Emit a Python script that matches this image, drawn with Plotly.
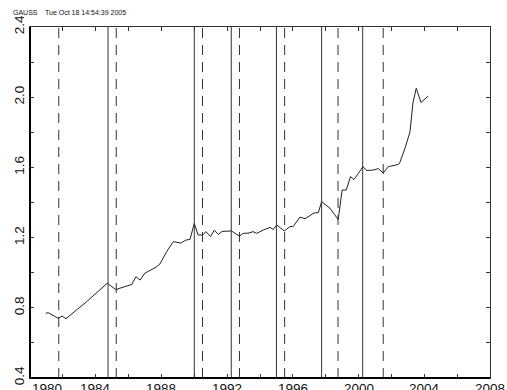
import plotly.graph_objects as go

# ---- data ----
years = [1980.96, 1981.11, 1981.72, 1981.95, 1982.19, 1983.45, 1984.70, 1985.22, 1985.89, 1986.19,
         1986.45, 1986.70, 1987.00, 1987.30, 1987.67, 1987.91, 1988.32, 1988.72, 1988.95, 1989.19,
         1989.49, 1989.74, 1990.00, 1990.23, 1990.51, 1990.71, 1990.99, 1991.22, 1991.46, 1991.69,
         1992.26, 1992.74, 1992.98, 1993.33, 1993.57, 1993.80, 1994.20, 1994.61, 1994.81, 1995.02,
         1995.48, 1995.82, 1996.03, 1996.43, 1996.74, 1997.29, 1997.55, 1997.75, 1998.26, 1998.76,
         1999.00, 1999.25, 1999.51, 1999.72, 1999.99, 2000.26, 2000.51, 2000.89, 2001.20, 2001.50,
         2001.81, 2002.15, 2002.43, 2002.52, 2002.82, 2003.13, 2003.31, 2003.51, 2003.80, 2004.24]
values = [0.769, 0.772, 0.740, 0.753, 0.738, 0.835, 0.940, 0.904, 0.924, 0.933,
          0.977, 0.958, 0.998, 1.015, 1.031, 1.050, 1.120, 1.177, 1.175, 1.169,
          1.186, 1.190, 1.281, 1.215, 1.215, 1.234, 1.206, 1.243, 1.218, 1.235,
          1.238, 1.209, 1.224, 1.226, 1.234, 1.224, 1.243, 1.258, 1.246, 1.272,
          1.238, 1.262, 1.264, 1.317, 1.308, 1.340, 1.342, 1.405, 1.367, 1.303,
          1.471, 1.471, 1.548, 1.531, 1.566, 1.604, 1.582, 1.585, 1.593, 1.568,
          1.604, 1.610, 1.617, 1.630, 1.708, 1.802, 1.967, 2.051, 1.970, 2.007]

solid_dates = [1984.75, 1990.0, 1992.25, 1995.0, 1997.75, 2000.25]
dashed_dates = [1981.75, 1985.25, 1990.5, 1992.75, 1995.5, 1998.75, 2001.5]

x_tick_vals = list(range(1980, 2009, 2))
x_label_vals = [1980, 1984, 1988, 1992, 1996, 2000, 2004, 2008]
y_tick_vals = [0.4, 0.6, 0.8, 1.0, 1.2, 1.4, 1.6, 1.8, 2.0, 2.2, 2.4]
y_tick_text = ["0.4", "", "0.8", "", "1.2", "", "1.6", "", "2.0", "", "2.4"]

header_left = "GAUSS"
header_right = "Tue Oct 18 14:54:39 2005"

FONT = "Liberation Sans, Arial, sans-serif"

fig = go.Figure()
fig.add_trace(go.Scatter(x=years, y=values, mode="lines",
                         line=dict(color="#222222", width=1), showlegend=False,
                         hoverinfo="skip"))

shapes = []
for d in solid_dates:
    shapes.append(dict(type="line", xref="x", yref="paper", x0=d, x1=d, y0=0, y1=1,
                       line=dict(color="#333333", width=1)))
for d in dashed_dates:
    shapes.append(dict(type="line", xref="x", yref="paper", x0=d, x1=d, y0=0, y1=1,
                       line=dict(color="#333333", width=1, dash="10px,7px")))
# thicker left & bottom frame
shapes.append(dict(type="line", xref="paper", yref="paper", x0=0, x1=0, y0=0, y1=1,
                   line=dict(color="black", width=2)))
shapes.append(dict(type="line", xref="paper", yref="paper", x0=0, x1=1, y0=0, y1=0,
                   line=dict(color="black", width=2)))

annotations = []
for v in x_label_vals:
    annotations.append(dict(x=v, y=-0.004, xref="x", yref="paper", text=str(v),
                            showarrow=False, xanchor="left" if v == 1980 else "center",
                            yanchor="top", font=dict(family=FONT, size=13.5, color="#111")))
annotations.append(dict(x=-0.0413, y=1.0427, xref="paper", yref="paper", text=header_left,
                        showarrow=False, xanchor="left", yanchor="middle",
                        font=dict(family=FONT, size=7, color="#111")))
annotations.append(dict(x=(43 - 30) / 460, y=1.0427, xref="paper", yref="paper", text=header_right,
                        showarrow=False, xanchor="left", yanchor="middle",
                        font=dict(family=FONT, size=7, color="#111")))

fig.update_layout(
    width=507, height=390,
    margin=dict(l=30, r=17, t=27, b=12),
    paper_bgcolor="white", plot_bgcolor="white",
    shapes=shapes, annotations=annotations,
    xaxis=dict(range=[1980, 2008], tickvals=x_tick_vals, showticklabels=False,
               ticks="inside", ticklen=4, tickcolor="#333", showline=True, linecolor="#333",
               linewidth=1, mirror="ticks", showgrid=False, zeroline=False, automargin=False),
    yaxis=dict(range=[0.4, 2.4], tickvals=y_tick_vals, ticktext=y_tick_text, tickangle=-90,
               ticks="inside", ticklen=4, tickcolor="#333", showline=True, linecolor="#333",
               linewidth=1, mirror="ticks", showgrid=False, zeroline=False, automargin=False,
               tickfont=dict(family=FONT, size=13.5, color="#111")),
)

fig.write_html("out.html", config={"displayModeBar": False},
               post_script="document.body.style.margin='0';document.body.style.overflow='hidden';")
